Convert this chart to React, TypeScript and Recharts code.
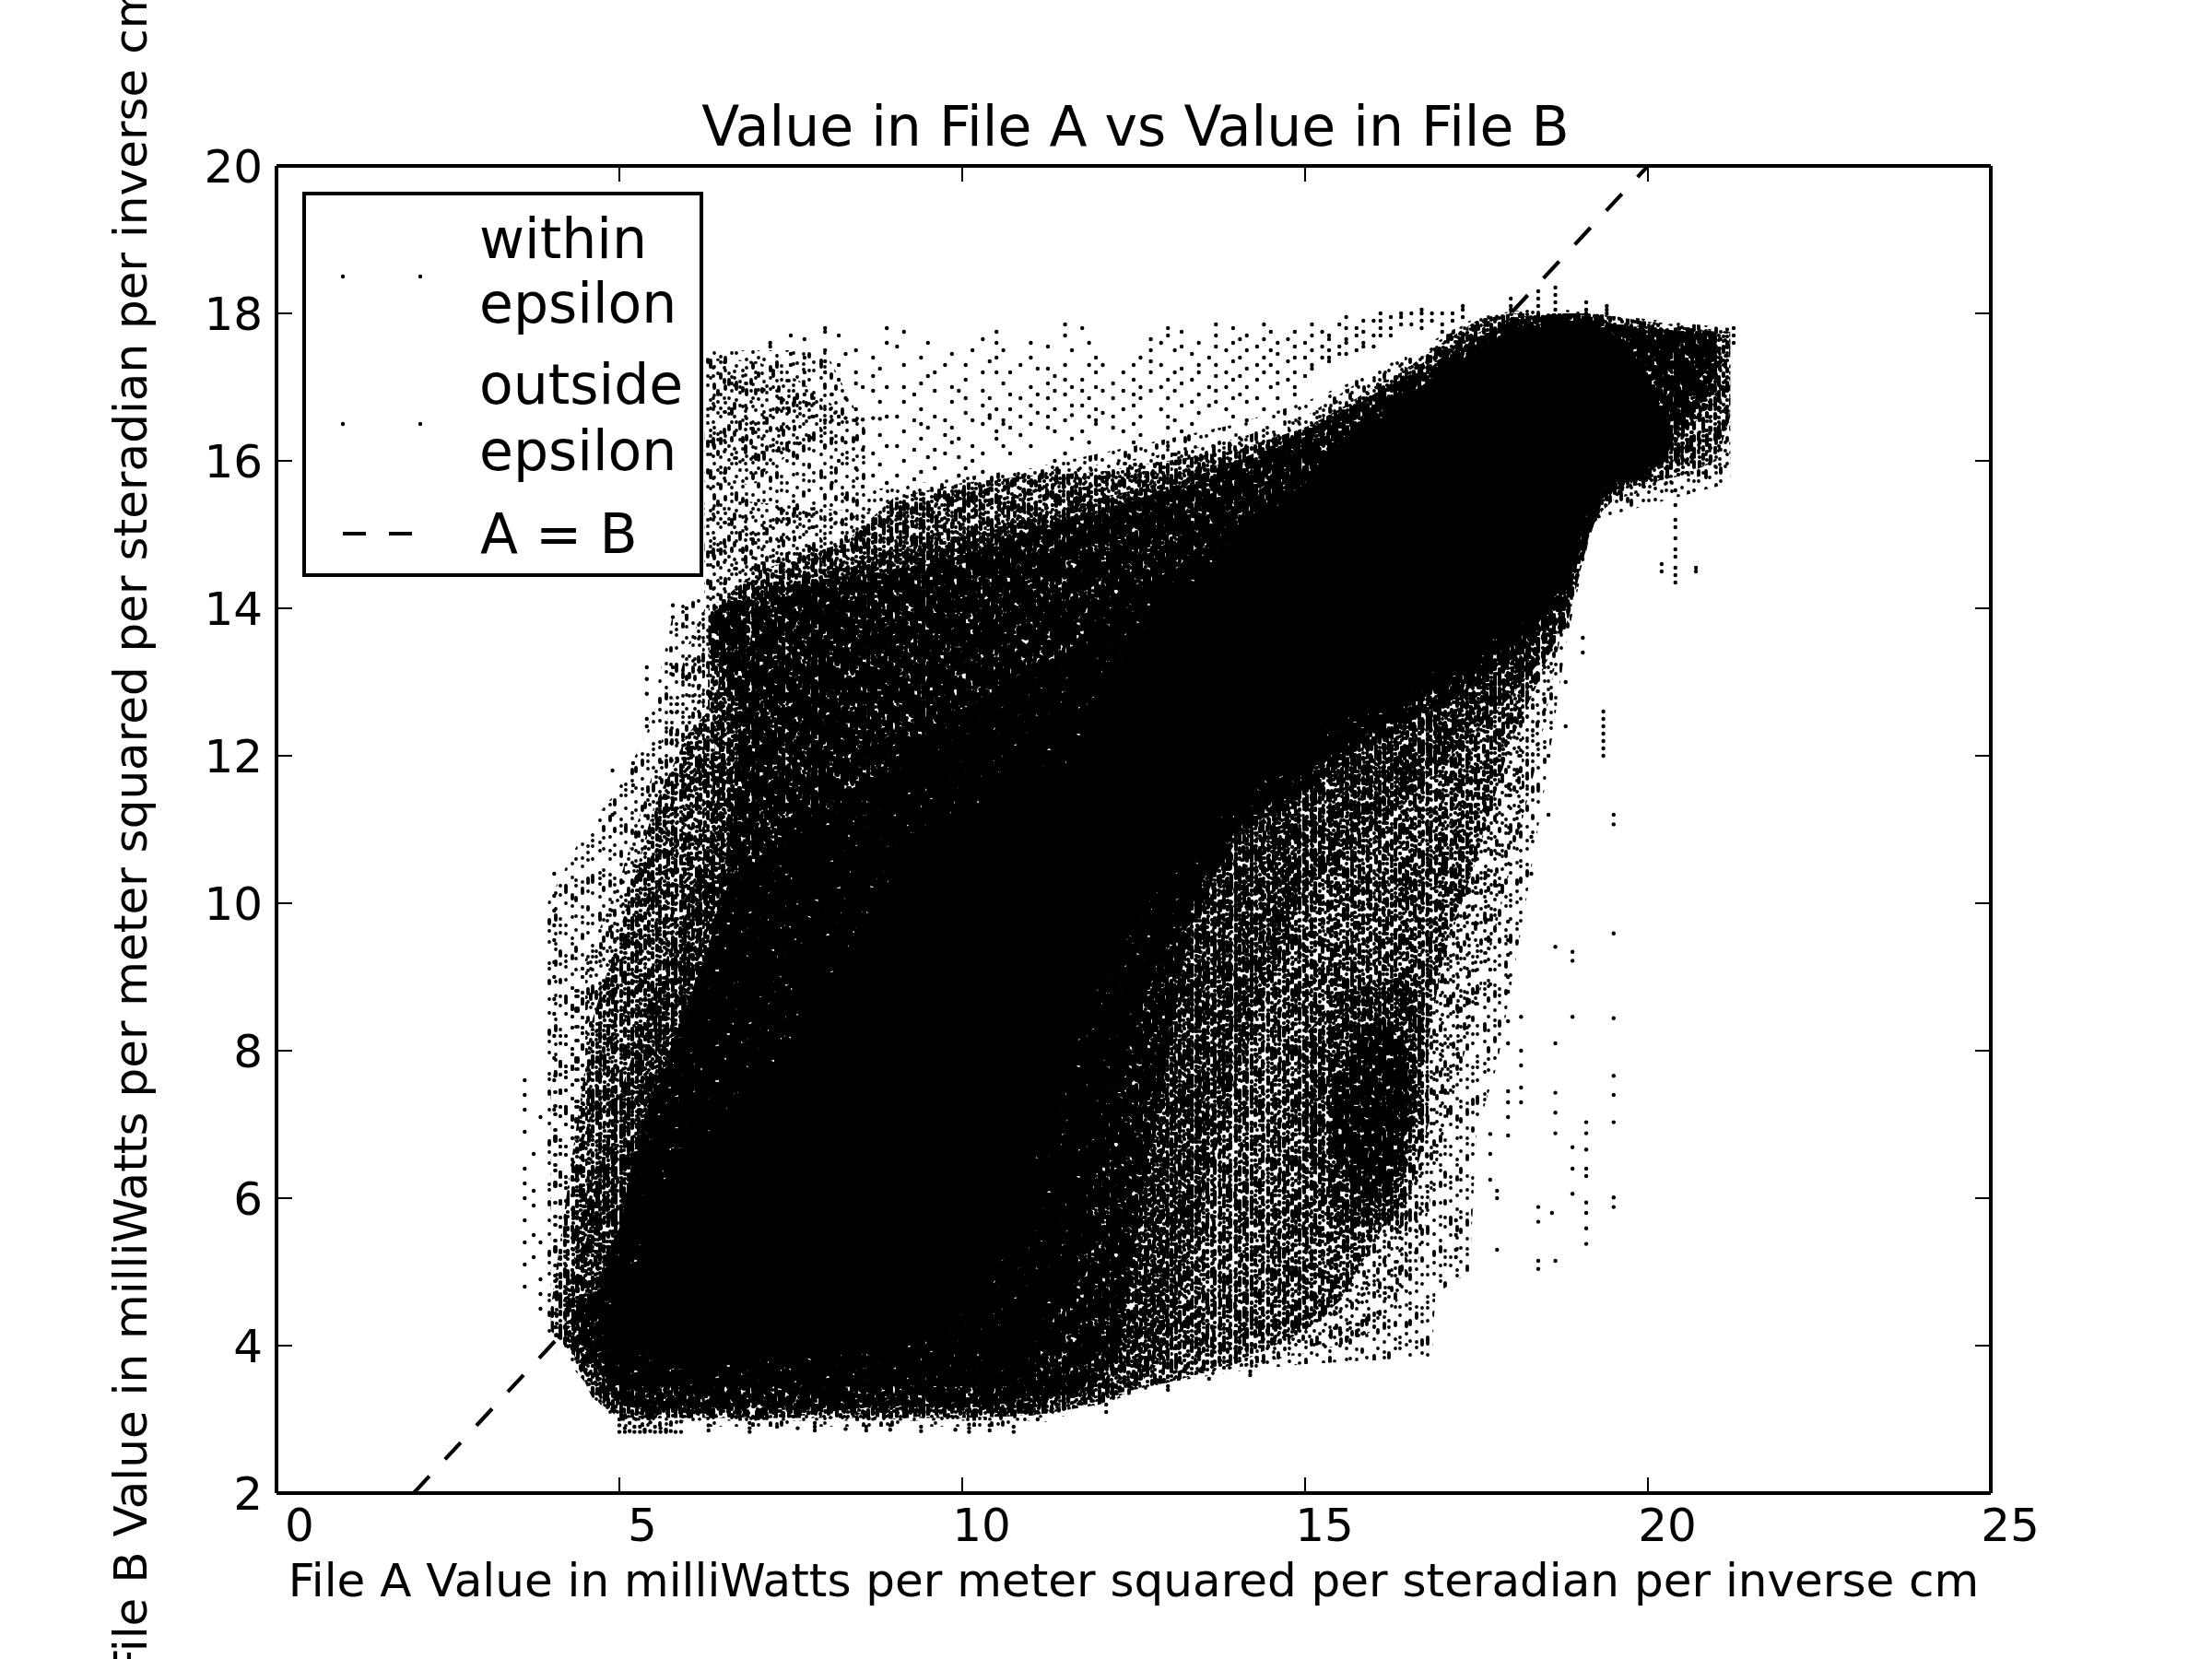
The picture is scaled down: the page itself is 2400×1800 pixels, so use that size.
import { ComposedChart, Area, Line, Scatter, XAxis, YAxis, Legend } from 'recharts';

const FONT = '"DejaVu Sans", sans-serif';

const xTicks = [0, 5, 10, 15, 20, 25];
const yTicks = [2, 4, 6, 8, 10, 12, 14, 16, 18, 20];

const titleText = 'Value in File A vs Value in File B';
const xLabel = 'File A Value in milliWatts per meter squared per steradian per inverse cm';
const yLabel = 'File B Value in milliWatts per meter squared per steradian per inverse cm';

// envelopes of the scatter cloud, by how dense it looks
const coreA = [4.8, 5.2, 5.8, 6.2, 7, 7.5, 8.6, 9.5, 10.5, 11.5, 12, 13, 14, 15, 16, 17, 17.6, 18, 18.6, 19, 19.2, 19.7, 20, 20.3];
const coreLow = [4.1, 3.9, 3.85, 3.85, 3.85, 3.85, 3.9, 4.1, 5.2, 7.6, 9.0, 10.4, 11.4, 12.2, 12.7, 13.2, 13.5, 13.8, 14.1, 15.0, 15.6, 15.8, 15.9, 16.0];
const coreHigh = [4.4, 5.0, 6.6, 6.7, 7.4, 8.15, 9.8, 11.1, 11.4, 11.8, 12.8, 14.0, 14.9, 15.7, 16.5, 17.15, 17.5, 17.7, 17.85, 17.9, 17.88, 17.6, 17.1, 16.3];

const deepA = [4.7, 5, 5.2, 5.5, 6, 6.5, 6.85, 7.5, 8.5, 9.5, 10.5, 10.7, 11, 11.6, 12, 12.5, 13, 14, 15, 16, 17, 18, 18.6, 19.3];
const deepLow = [3.9, 3.5, 3.45, 3.45, 3.45, 3.45, 3.45, 3.45, 3.45, 3.45, 3.45, 3.45, 3.6, 5.0, 6.5, 8.3, 9.6, 11.0, 11.8, 12.4, 13.0, 13.5, 14.0, 15.3];
const deepHigh = [4.7, 5.5, 6.6, 7.5, 8.6, 10.0, 10.4, 11.0, 11.5, 12.3, 12.9, 13.0, 13.2, 13.4, 13.9, 14.2, 14.5, 15.1, 15.8, 16.6, 17.2, 17.75, 17.9, 17.9];

const heavyA = [4.4, 4.6, 5, 5.5, 6, 6.4, 6.6, 6.8, 7, 8, 9, 10, 11, 11.9, 12.3, 12.6, 13, 13.3, 13.7, 14, 15, 16, 17, 18, 18.8, 19.2, 19.5, 20, 20.6, 21];
const heavyLow = [4.1, 3.8, 3.2, 3.1, 3.2, 3.05, 3.2, 3.12, 3.2, 3.1, 3.2, 3.15, 3.25, 3.4, 4.0, 5.9, 7.9, 9.6, 10.4, 10.9, 11.5, 12.2, 12.7, 13.3, 14.0, 15.4, 15.6, 15.75, 16.6, 17.0];
const heavyHigh = [4.5, 4.7, 5.6, 7.2, 8.7, 9.6, 11.0, 12.8, 14.2, 14.4, 14.5, 14.7, 15.1, 15.3, 15.4, 15.5, 15.6, 15.75, 15.9, 16.0, 16.4, 16.9, 17.4, 17.9, 18.0, 17.95, 17.85, 17.8, 17.75, 17.75];

const bandA = [6.3, 6.6, 6.85];
const bandLow = [13.4, 13.0, 12.6];
const bandHigh = [13.9, 14.1, 14.2];

const blobA = [15.4, 15.8, 16.2, 16.5];
const blobLow = [6.6, 6.0, 6.0, 7.0];
const blobHigh = [7.4, 8.2, 8.4, 8.0];

const blobHaloA = [15.0, 15.5, 16.4, 16.8];
const blobHaloLow = [6.6, 5.7, 5.6, 7.0];
const blobHaloHigh = [8.2, 8.8, 9.0, 8.4];

const darkA = [4.2, 4.5, 5, 5.5, 6, 6.3, 6.5, 7, 8.3, 9, 10, 11, 12, 12.5, 13, 13.5, 14, 14.5, 15, 16, 17, 18, 18.8, 19.2, 21];
const darkLow = [4.1, 3.6, 3.1, 3.0, 3.1, 3.0, 3.1, 3.0, 3.1, 3.0, 3.1, 3.05, 3.2, 3.4, 3.9, 6.0, 7.6, 9.0, 10.2, 11.0, 11.9, 12.8, 13.7, 15.2, 16.8];
const darkHigh = [4.5, 6.0, 7.4, 8.8, 10.0, 10.6, 13.9, 14.3, 14.6, 14.8, 15.0, 15.2, 15.5, 15.6, 15.8, 15.9, 16.0, 16.2, 16.4, 16.9, 17.5, 17.95, 18.0, 18.0, 17.75];

const mediumA = [4.0, 4.3, 4.6, 5, 5.5, 6, 6.29, 6.3, 6.6, 7, 8.3, 9, 10, 11, 12, 13, 14, 15, 15.5, 16, 16.4, 17, 17.5, 18, 18.4, 18.8, 19.2, 19.5, 20.5, 21, 21.2];
const mediumLow = [4.2, 3.9, 3.3, 3.02, 3.02, 3.02, 3.02, 3.02, 3.02, 3.02, 3.02, 3.02, 3.02, 3.05, 3.3, 3.5, 3.75, 4.2, 4.6, 5.4, 6.0, 9.2, 10.6, 12.2, 13.0, 13.9, 15.1, 15.6, 15.8, 16.0, 16.6];
const mediumHigh = [4.5, 6.5, 8.4, 9.6, 11.3, 12.3, 12.6, 14.0, 14.2, 14.5, 14.9, 15.5, 15.7, 15.8, 15.85, 16.0, 16.15, 16.45, 16.7, 17.0, 17.2, 17.6, 17.9, 18.0, 18.0, 18.0, 18.0, 17.85, 17.8, 17.75, 17.75];

const patchA = [6.25, 7, 7.6, 8.2];
const patchLow = [15.6, 15.7, 16.2, 16.45];
const patchHigh = [17.4, 17.35, 17.1, 16.7];

const paleA = [4, 4.3, 4.6, 5, 5.5, 6, 6.25, 6.26, 8.6, 11, 12, 13, 14, 15, 15.5, 16, 16.6, 17, 17.5, 18, 18.4, 18.8, 19.2, 21.2];
const paleLow = [4.2, 3.9, 3.3, 2.98, 2.98, 2.98, 2.98, 2.98, 2.98, 2.98, 3.25, 3.55, 3.7, 3.9, 4.0, 4.2, 4.9, 6.8, 8.6, 10.5, 12.0, 14.0, 15.4, 15.9];
const paleHigh = [7.5, 8.9, 9.4, 10.3, 11.8, 13.5, 14.0, 15.5, 15.3, 15.85, 15.95, 16.1, 16.3, 16.6, 16.9, 17.2, 17.5, 17.7, 17.95, 18.0, 18.0, 18.0, 18.0, 17.75];

const lightA = [3.95, 4.5, 4.95, 5.4, 5.8, 6.24, 6.25, 8, 8.6, 8.61, 11, 12, 13, 14, 15, 16, 16.85, 16.9, 17.4, 17.5, 17.8, 18.2, 18.5, 18.8, 19.2, 21.2];
const lightLow = [4.1, 3.5, 2.9, 2.9, 2.9, 2.9, 2.9, 2.9, 2.9, 2.9, 2.9, 3.2, 3.5, 3.65, 3.75, 3.8, 3.85, 4.7, 5.0, 6.9, 7.8, 9.9, 11.6, 13.5, 15.2, 15.7];
const lightHigh = [10.0, 11.0, 11.5, 12.3, 14.0, 14.2, 17.5, 17.5, 16.4, 15.6, 15.9, 16.1, 16.3, 16.5, 16.8, 17.2, 17.5, 17.6, 17.9, 18.0, 18.0, 18.05, 18.05, 18.05, 18.0, 17.8];

// single points on the thin edges of the cloud: [A value, B values in that column]
const topColumns: [number, number[]][] = [
  [7.2, [17.6, 17.55]], [7.5, [17.7, 17.45, 17.3]], [7.7, [17.65, 17.4, 17.2, 16.9]],
  [8.0, [17.8, 17.75, 17.5, 17.35, 17.2, 16.55, 16.2]], [8.2, [17.7, 17.3, 17.1, 16.6, 16.5, 16.0]],
  [8.45, [17.5, 17.2, 17.05, 16.7, 16.55, 16.3, 15.9]], [8.7, [17.4, 17.15, 16.95, 16.58, 16.1, 15.8]],
  [8.9, [17.8, 17.6, 17.0, 16.6, 16.2, 15.7]], [9.15, [17.75, 17.3, 17.0, 16.8, 16.4, 16.0]],
  [9.4, [17.4, 17.05, 16.7, 16.5, 16.3, 15.85]], [9.6, [17.2, 16.95, 16.6, 16.15, 15.9]],
  [9.85, [17.45, 17.0, 16.8, 16.45, 16.25]], [10.05, [17.3, 17.1, 16.85, 16.65, 15.9]],
  [10.3, [17.65, 17.2, 16.95, 16.75, 16.5, 16.1, 15.85]], [10.5, [17.75, 17.6, 17.4, 17.2, 16.7, 16.4, 16.3]],
  [10.7, [17.2, 16.9, 16.7, 16.45, 16.1]], [11.0, [17.6, 17.4, 17.0, 16.75, 16.5, 16.2]],
  [11.25, [17.55, 17.25, 17.05, 16.85, 16.6, 16.45]], [11.5, [17.85, 17.7, 17.3, 17.1, 16.9, 16.55, 16.1]],
  [11.75, [17.8, 17.1, 16.95, 16.75, 16.4]], [11.95, [17.4, 17.2, 17.0, 16.7, 16.55, 16.5]],
  [12.2, [17.05, 16.85, 16.6, 16.45]], [12.5, [17.3, 17.1, 16.9, 16.75, 16.5, 16.25]],
  [12.75, [17.65, 17.5, 17.35, 17.2, 16.95]], [13.0, [17.8, 17.7, 17.1, 16.85, 16.6, 16.45, 16.2]],
  [13.2, [17.75, 17.55, 17.25, 17.05, 16.75, 16.4]], [13.45, [17.6, 17.3, 17.2, 16.9, 16.65]],
  [13.7, [17.85, 17.7, 17.55, 17.3, 17.15, 16.95, 16.8]], [13.95, [17.8, 17.6, 17.35, 17.1, 16.85, 16.6]],
  [14.15, [17.7, 17.5, 17.25, 17.0, 16.8, 16.55]], [14.4, [17.85, 17.65, 17.4, 17.2, 16.7]],
  [14.6, [17.6, 17.45, 17.2, 17.05, 16.85]], [14.85, [17.75, 17.55, 17.4, 17.2, 17.0, 16.9]],
  [15.1, [17.85, 17.7, 17.5, 17.3, 17.25]], [15.35, [17.7, 17.65, 17.5, 17.4, 17.35]],
  [15.6, [17.95, 17.8, 17.65, 17.6, 17.45]], [15.85, [17.9, 17.75, 17.6, 17.55]],
  [16.1, [18.0, 17.9, 17.8, 17.7]], [16.4, [18.0, 17.95, 17.85]], [16.7, [18.05, 18.0, 17.9, 17.8]],
  [17.0, [18.0, 17.85, 17.75]], [17.3, [18.1, 18.05, 17.95]], [18.0, [18.2, 18.1, 18.05]],
  [18.4, [18.3, 18.2, 18.1]], [18.65, [18.35, 18.25, 18.15, 18.05]], [19.1, [18.15, 18.05, 18.0]],
  [19.4, [18.1, 18.05, 18.0]], [21.25, [17.8, 17.7, 17.6]],
];

const midColumns: [number, number[]][] = [
  [8.1, [16.9, 16.55, 16.3, 15.7]], [8.3, [17.45, 16.85, 16.58, 16.25, 15.5]], [8.55, [17.0, 16.56, 16.15, 15.65]],
  [8.8, [17.25, 16.8, 16.57, 16.35, 15.95]], [9.05, [17.55, 16.6, 16.2, 15.8]], [9.3, [16.9, 16.55, 16.15, 15.75]],
  [9.5, [17.6, 17.15, 16.45, 16.05]], [9.75, [17.3, 16.55, 16.35, 16.1]], [9.95, [16.95, 16.3, 16.05, 15.8]],
  [10.15, [17.5, 16.55, 16.2, 16.0]], [10.4, [17.35, 16.85, 16.62, 16.58]], [10.6, [17.5, 17.05, 16.55, 16.5, 16.2]],
  [10.85, [17.3, 16.85, 16.6, 16.35]], [11.1, [17.25, 16.9, 16.65]], [11.35, [17.15, 16.95, 16.7, 16.4, 16.0]],
  [11.6, [17.5, 17.0, 16.75, 16.62, 16.3]], [11.85, [17.6, 17.3, 16.85, 16.6, 16.25]], [12.05, [17.3, 16.95, 16.65]],
  [12.35, [17.2, 16.95, 16.7, 16.4]], [12.6, [17.4, 17.0, 16.85, 16.6, 16.35]], [12.9, [17.6, 17.3, 17.0, 16.7]],
  [13.1, [17.5, 17.2, 16.95, 16.55]], [13.35, [17.45, 17.1, 16.8, 16.5]], [13.6, [17.4, 17.0, 16.75]],
  [13.85, [17.5, 17.2, 17.0, 16.7]], [14.05, [17.65, 17.4, 17.15, 16.9]], [14.3, [17.55, 17.3, 17.1, 16.85]],
  [14.5, [17.75, 17.5, 17.3, 17.0]], [14.75, [17.65, 17.35, 17.1]], [15.0, [17.6, 17.4, 17.15]],
  [15.25, [17.75, 17.55, 17.4]], [15.5, [17.85, 17.55, 17.45]], [15.75, [17.8, 17.7, 17.5]],
  [16.0, [17.9, 17.7, 17.55]], [16.25, [17.95, 17.8, 17.7]], [16.55, [18.0, 17.85]], [16.85, [18.0, 17.9]], [17.15, [18.0, 17.9]],
];

const leftColumns: [number, number[]][] = [
  [3.62, [7.6, 7.4, 7.2, 6.9, 6.4, 6.2, 6.0, 5.7, 5.4, 5.1, 4.8]], [3.75, [6.6, 6.1, 5.9, 5.5, 5.2]],
  [3.85, [5.4, 4.9, 4.7, 4.5, 7.1]], [4.05, [10.4, 10.1, 9.9, 9.7, 9.5, 9.2, 9.0, 8.7, 8.5, 8.2, 7.9, 7.6, 7.2]],
  [5.4, [13.2, 13.04, 12.84, 12.5, 12.4]], [5.78, [14.04, 13.88, 13.2, 13.1]], [5.98, [14.0, 13.9]],
  [4.65, [3.9, 3.75, 3.6, 3.5]], [5.2, [11.9, 11.6]], [4.9, [11.8, 11.2]],
];

const bottomColumns: [number, number[]][] = [
  [5.0, [2.83, 2.92, 3.0]], [5.08, [2.83, 2.88]], [5.15, [2.84, 2.95]], [5.22, [2.83, 2.9]], [5.3, [2.83, 2.9]], [5.37, [2.83, 2.86]],
  [5.45, [2.84, 2.96]], [5.52, [2.83, 2.9]], [5.6, [2.83, 2.88]], [5.68, [2.83, 2.86]], [5.75, [2.84, 2.93]], [5.82, [2.83]],
  [5.9, [2.83, 2.97]], [6.3, [2.85, 2.92]], [6.9, [2.83, 2.88, 2.95]], [7.3, [2.9]],
  [7.6, [2.88]], [7.85, [2.85, 2.9, 2.95]], [8.3, [2.87]], [8.6, [2.9, 2.85]], [8.95, [2.86, 2.92]],
  [9.4, [2.84, 2.9]], [9.9, [2.86]], [10.1, [2.83, 2.88, 2.93]], [10.4, [2.85, 2.92]], [10.75, [2.83, 2.9]],
  [11.1, [3.1, 3.0]], [12.1, [3.2, 3.1]], [13.0, [3.45, 3.4]], [13.6, [3.55]], [14.2, [3.6, 3.65]],
];

const rightColumns: [number, number[]][] = [
  [20.4, [15.6, 15.4, 15.2, 15.1, 14.95, 14.8, 14.7, 14.55, 14.45, 14.35]], [20.2, [14.6, 14.5]], [20.7, [14.55, 14.5]],
  [19.35, [12.6, 12.5, 12.4, 12.3, 12.2, 12.1, 12.0]], [19.5, [11.2, 11.07, 9.59, 8.44, 7.66, 7.4, 7.03, 6.01, 5.88]],
  [19.1, [7.03, 6.88, 6.66, 6.4, 6.3, 5.94, 5.8, 5.59, 5.38]], [18.9, [9.34, 9.22, 8.46, 6.69, 6.4, 6.06]],
  [18.65, [9.41, 8.1, 7.43, 7.16, 6.88, 5.15]], [18.4, [5.88, 5.68, 5.15, 5.04]], [18.6, [5.8]],
  [18.15, [8.46, 8.0, 7.8, 7.5, 7.3]], [17.96, [9.75, 9.5, 9.3, 9.0, 8.8, 8.4, 8.1, 7.45, 7.3, 7.1, 6.85]],
  [17.7, [9.5, 9.1, 8.9, 6.87, 6.6, 6.25]], [17.8, [6.1, 6.0, 5.3]], [17.2, [5.7, 5.5, 5.3, 5.2]],
  [18.3, [10.9, 10.4]], [18.55, [11.2, 12.0]], [18.8, [13.0, 12.4]], [19.05, [13.6, 13.4]],
];

const withinColumns: [number, number[]][] = [
  [4.35, [4.4, 4.3, 4.2]], [4.45, [4.5, 4.35]], [17.3, [17.3, 17.25]], [17.5, [17.5, 17.45]],
];

const diagonalA = [2, 20];
const diagonalB = [2, 20];

const legendNames = [['within', 'epsilon'], ['outside', 'epsilon'], ['A = B']];

// texture for the speckled parts of the cloud: dotted vertical columns, like the raw data
const deepDashes = ['38 6 31 6 33 6', '52 6 27 6 23 6', '19 6 44 6 39 6', '61 6 17 6 24 6', '28 6 35 6 39 6'];
const heavyDashes = ['16 10 27 11 9 9 25 13', '7 11 22 9 32 10 14 15', '24 9 11 12 18 10 27 9', '12 10 36 9 7 13 23 10', '29 12 6 10 20 9 17 17'];
const mediumDashes = [
  '0 5 0 6 6 9 0 5 0 9 3 7 0 5 9 10 0 7 0 11 9 8 5 6',
  '5 7 0 5 0 8 0 6 8 11 0 5 2 8 0 5 0 8 6 9 3 11 9 5',
  '0 5 0 5 0 11 10 8 0 5 0 7 3 10 0 5 5 9 0 9 8 13 12 5',
  '3 8 0 5 0 5 12 12 0 7 0 5 0 9 4 6 0 5 5 11 9 7 10 7',
  '7 6 0 9 0 5 14 8 0 5 0 12 2 7 0 6 0 10 4 5 0 13 6 1',
  '0 8 4 5 0 10 0 5 11 7 0 9 0 6 6 8 0 5 0 9 0 7 7 13',
];
const lightDashes = ['0 9 0 17 0 7 5 15 0 11 0 6 0 13 4 18 0 15', '0 19 4 8 0 12 0 23 0 6 0 13 3 17 0 15', '0 6 0 6 0 14 0 18 7 12 0 24 0 9 0 24', '3 15 0 10 0 26 0 7 0 8 0 20 5 9 0 17'];
const offsets = [0, 17, 43, 8, 71, 29, 96, 54, 13, 82, 37, 61, 5, 109, 24, 90, 48, 75, 33, 101, 11, 66, 40, 87, 20, 58, 115, 3, 79, 46];

const evenX = [2, 6, 10, 14, 18, 22, 26, 30, 34, 38, 42, 46, 50, 54, 58, 62, 66, 70, 74, 78, 82, 86, 90, 94, 98, 102, 106, 110, 114, 118];
const mediumX = [2, 6, 11, 14, 19, 23, 28, 31, 37, 41, 45, 48, 54, 58, 63, 66, 71, 75, 80, 83, 89, 93, 97, 101, 106, 110, 115];
const darkX = [2, 7, 10, 16, 21, 24, 30, 34, 40, 43, 49, 52, 57, 61, 68, 72, 77, 81, 86, 91, 95, 99, 105, 108, 113, 118, 122];
const lightX = [3, 8, 14, 21, 25, 32, 38, 43, 51, 55, 62, 67, 74, 79, 86, 90, 97, 103, 109, 116];
const paleX = [1, 6, 12, 17, 24, 29, 35, 41, 47, 53, 58, 65, 70, 77, 83, 88, 94, 100, 106, 113, 119, 124];

const zip = (a: number[], low: number[], high: number[]) => a.map((v, i) => ({ a: v, range: [low[i], high[i]] }));
const points = (cols: [number, number[]][]) => cols.flatMap(([a, bs]) => bs.map(b => ({ a, b })));

function Speckle({ id, width, xs, lw, dashes, shift = 0 }: { id: string; width: number; xs: number[]; lw: number; dashes: string[]; shift?: number }) {
  return (
    <pattern id={id} patternUnits="userSpaceOnUse" width={width} height={120}>
      {xs.map((x, i) => (
        <path
          key={i}
          d={`M${x} -120V240`}
          stroke="#000"
          strokeWidth={lw}
          strokeLinecap="round"
          fill="none"
          strokeDasharray={dashes[(i * 3 + (i >> 2)) % dashes.length]}
          strokeDashoffset={offsets[(i + shift) % offsets.length]}
        />
      ))}
    </pattern>
  );
}

const Dot = (p: any) => <circle cx={p.cx} cy={p.cy} r={2.2} fill="#000" />;

const BottomTick = ({ x, y, payload }: any) => (
  <g>
    <line x1={x} x2={x} y1={y} y2={y - 17} stroke="#000" strokeWidth={2} />
    <text x={x + (payload.value >= 10 ? 21 : 25)} y={y + 52} textAnchor="middle" fontSize={50} fontFamily={FONT} fill="#000">{payload.value}</text>
  </g>
);
const TopTick = ({ x, y }: any) => <line x1={x} x2={x} y1={y} y2={y + 17} stroke="#000" strokeWidth={2} />;
const LeftTick = ({ x, y, payload }: any) => (
  <g>
    <line x1={x} x2={x + 17} y1={y} y2={y} stroke="#000" strokeWidth={2} />
    <text x={x - 15} y={y + 18} textAnchor="end" fontSize={50} fontFamily={FONT} fill="#000">{payload.value}</text>
  </g>
);
const RightTick = ({ x, y }: any) => <line x1={x} x2={x - 17} y1={y} y2={y} stroke="#000" strokeWidth={2} />;

function LegendBox() {
  return (
    <svg width={431} height={414} style={{ display: 'block', overflow: 'visible' }}>
      <rect x={0} y={0} width={431} height={414} fill="#fff" stroke="#000" strokeWidth={4} />
      <circle cx={42} cy={90} r={2.2} fill="#000" />
      <circle cx={126} cy={90} r={2.2} fill="#000" />
      <circle cx={42} cy={250} r={2.2} fill="#000" />
      <circle cx={126} cy={250} r={2.2} fill="#000" />
      <line x1={42} x2={117} y1={369} y2={369} stroke="#000" strokeWidth={4.17} strokeDasharray="25 25" />
      <g fontFamily={FONT} fontSize={60} fill="#000">
        <text x={190} y={70}>{legendNames[0][0]}</text>
        <text x={190} y={140}>{legendNames[0][1]}</text>
        <text x={190} y={228}>{legendNames[1][0]}</text>
        <text x={190} y={300}>{legendNames[1][1]}</text>
        <text x={191} y={390}>{legendNames[2][0]}</text>
      </g>
    </svg>
  );
}

const band = (id: string, data: any[], fill: string) => (
  <Area
    key={id}
    data={data}
    dataKey="range"
    type="linear"
    fill={fill}
    fillOpacity={1}
    stroke="none"
    dot={false}
    activeDot={false}
    legendType="none"
    isAnimationActive={false}
  />
);

const frame = { stroke: '#000', strokeWidth: 4 };

export default function App() {
  return (
    <div style={{ position: 'absolute', left: 0, top: 0, width: 2400, height: 1800, background: '#fff' }}>
      <ComposedChart width={2400} height={1800} margin={{ top: 179, right: 239, bottom: 179, left: 299 }}>
        <defs>
          <Speckle id="speckleDeep" width={120} xs={evenX} lw={4.5} dashes={deepDashes} />
          <Speckle id="speckleHeavy" width={120} xs={evenX} lw={4.5} dashes={heavyDashes} />
          <Speckle id="speckleDark" width={125} xs={darkX} lw={4.2} dashes={mediumDashes} shift={9} />
          <Speckle id="speckleMedium" width={117} xs={mediumX} lw={4.2} dashes={mediumDashes} />
          <Speckle id="specklePale" width={127} xs={paleX} lw={3.8} dashes={lightDashes} shift={14} />
          <Speckle id="speckleLight" width={120} xs={lightX} lw={3.8} dashes={lightDashes} />
        </defs>

        <XAxis xAxisId={0} dataKey="a" type="number" domain={[0, 25]} ticks={xTicks} height={1} tickSize={0} tickMargin={0} tickLine={false} tick={BottomTick} axisLine={frame} allowDataOverflow interval={0} />
        <XAxis xAxisId="top" orientation="top" dataKey="a" type="number" domain={[0, 25]} ticks={xTicks} height={1} tickSize={0} tickMargin={0} tickLine={false} tick={TopTick} axisLine={frame} allowDataOverflow interval={0} />
        <YAxis yAxisId={0} type="number" domain={[2, 20]} ticks={yTicks} width={1} tickSize={0} tickMargin={0} tickLine={false} tick={LeftTick} axisLine={frame} allowDataOverflow interval={0} />
        <YAxis yAxisId="right" orientation="right" type="number" domain={[2, 20]} ticks={yTicks} width={1} tickSize={0} tickMargin={0} tickLine={false} tick={RightTick} axisLine={frame} allowDataOverflow interval={0} />

        <Line
          data={diagonalA.map((a, i) => ({ a, b: diagonalB[i] }))}
          dataKey="b"
          name="A = B"
          stroke="#000"
          strokeWidth={4.17}
          strokeDasharray="25 25"
          dot={false}
          activeDot={false}
          isAnimationActive={false}
        />

        {band('light', zip(lightA, lightLow, lightHigh), 'url(#speckleLight)')}
        {band('pale', zip(paleA, paleLow, paleHigh), 'url(#specklePale)')}
        {band('medium', zip(mediumA, mediumLow, mediumHigh), 'url(#speckleMedium)')}
        {band('patch', zip(patchA, patchLow, patchHigh), 'url(#specklePale)')}
        {band('dark', zip(darkA, darkLow, darkHigh), 'url(#speckleDark)')}
        {band('halo', zip(blobHaloA, blobHaloLow, blobHaloHigh), 'url(#speckleDark)')}
        {band('heavy', zip(heavyA, heavyLow, heavyHigh), 'url(#speckleHeavy)')}
        {band('band', zip(bandA, bandLow, bandHigh), 'url(#speckleHeavy)')}
        {band('blob', zip(blobA, blobLow, blobHigh), 'url(#speckleHeavy)')}
        {band('deep', zip(deepA, deepLow, deepHigh), 'url(#speckleDeep)')}
        {band('core', zip(coreA, coreLow, coreHigh), '#000')}

        <Scatter name="outside epsilon" data={points([...topColumns, ...midColumns, ...leftColumns, ...bottomColumns, ...rightColumns])} dataKey="b" shape={Dot} isAnimationActive={false} />
        <Scatter name="within epsilon" data={points(withinColumns)} dataKey="b" shape={Dot} isAnimationActive={false} />

        <Legend layout="horizontal" verticalAlign="middle" align="center" content={() => <LegendBox />} wrapperStyle={{ left: 330, top: 210, bottom: 'auto', width: 431, height: 414 }} />

        <text x={1232} y={158} textAnchor="middle" fontSize={60} fontFamily={FONT} fill="#000">{titleText}</text>
        <text x={1230} y={1732} textAnchor="middle" fontSize={50} fontFamily={FONT} fill="#000">{xLabel}</text>
        <text x={159} y={900} textAnchor="middle" fontSize={50} fontFamily={FONT} fill="#000" transform="rotate(-90 159 900)">{yLabel}</text>
      </ComposedChart>
    </div>
  );
}
